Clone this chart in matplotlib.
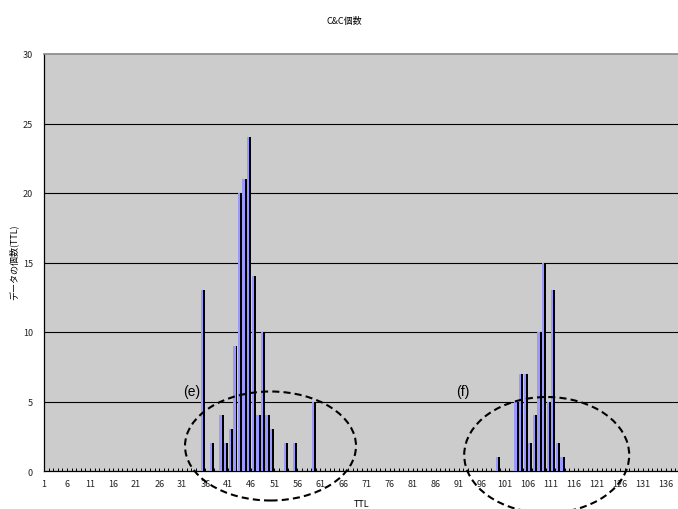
import matplotlib
matplotlib.use("Agg")
import matplotlib.pyplot as plt
from matplotlib.patches import Ellipse
from matplotlib.ticker import MultipleLocator, FixedLocator

plt.rcParams['font.family'] = ['Noto Sans CJK JP', 'DejaVu Sans']

# ---- data ----
ttl = [36, 38, 40, 41, 42, 43, 44, 45, 46, 47, 48, 49, 50, 51, 54, 56, 60,
       100, 104, 105, 106, 107, 108, 109, 110, 111, 112, 113, 114]
counts = [13, 2, 4, 2, 3, 9, 20, 21, 24, 14, 4, 10, 4, 3, 2, 2, 5,
          1, 5, 7, 7, 2, 4, 10, 15, 5, 13, 2, 1]
n_categories = 138
tick_labels = list(range(1, 137, 5))
title = "C&C個数"
xlabel = "TTL"
ylabel = "データの個数(TTL)"

W, H = 678, 510
fig = plt.figure(figsize=(W / 100, H / 100), dpi=100)
ax = fig.add_axes([44 / W, 1 - 472 / H, (W - 44) / W, (472 - 55) / H])
ax.set_facecolor('#cccccc')

# bars: light blue face with black right side
blue_x = [k - 0.68 for k in ttl]
black_x = [k - 0.22 for k in ttl]
ax.bar(blue_x, counts, width=0.5, color='#9999ff', linewidth=0, zorder=3)
ax.bar(black_x, counts, width=0.42, color='black', linewidth=0, zorder=3)

ax.set_xlim(1, n_categories + 0.6)
ax.set_ylim(0, 30)

for y in range(5, 30, 5):
    ax.axhline(y, color='black', lw=0.8, zorder=1)

ax.spines['top'].set_color('#888888')
ax.spines['top'].set_linewidth(1.2)
ax.spines['right'].set_visible(False)
ax.spines['left'].set_color('black')
ax.spines['bottom'].set_color('black')
ax.spines['left'].set_linewidth(0.9)
ax.spines['bottom'].set_linewidth(0.9)

ax.xaxis.set_major_locator(FixedLocator(tick_labels))
ax.set_xticklabels([str(t) for t in tick_labels])
ax.xaxis.set_minor_locator(MultipleLocator(1))
ax.tick_params(axis='x', which='both', direction='in', length=2.5, width=0.7,
               labelsize=6.5, pad=6, colors='black', labelcolor='#222222')
ax.yaxis.set_major_locator(MultipleLocator(5))
ax.tick_params(axis='y', which='both', length=0, labelsize=6.5, pad=8,
               labelcolor='#222222')

fig.text(344 / W, 1 - 21 / H, title, ha='center', va='center', fontsize=6.5)
fig.text(14 / W, 1 - 262 / H, ylabel, ha='center', va='center', rotation=90, fontsize=6.5)
fig.text(362 / W, 1 - 505 / H, xlabel, ha='center', va='center', fontsize=6.5)

fig.text(192 / W, 1 - 392 / H, "(e)", ha='center', va='center', fontsize=10,
         family=['Liberation Sans', 'DejaVu Sans'])
fig.text(463 / W, 1 - 392 / H, "(f)", ha='center', va='center', fontsize=10,
         family=['Liberation Sans', 'DejaVu Sans'])

for cx, cy, w, h in [(270.5, 447, 171, 109), (546.7, 456, 165, 116)]:
    e = Ellipse((cx / W, 1 - cy / H), w / W, h / H, transform=fig.transFigure,
                fill=False, edgecolor='black', lw=1.5, linestyle=(0, (3.4, 2.0)),
                zorder=10)
    fig.add_artist(e)

fig.savefig("out.png", dpi=100)
